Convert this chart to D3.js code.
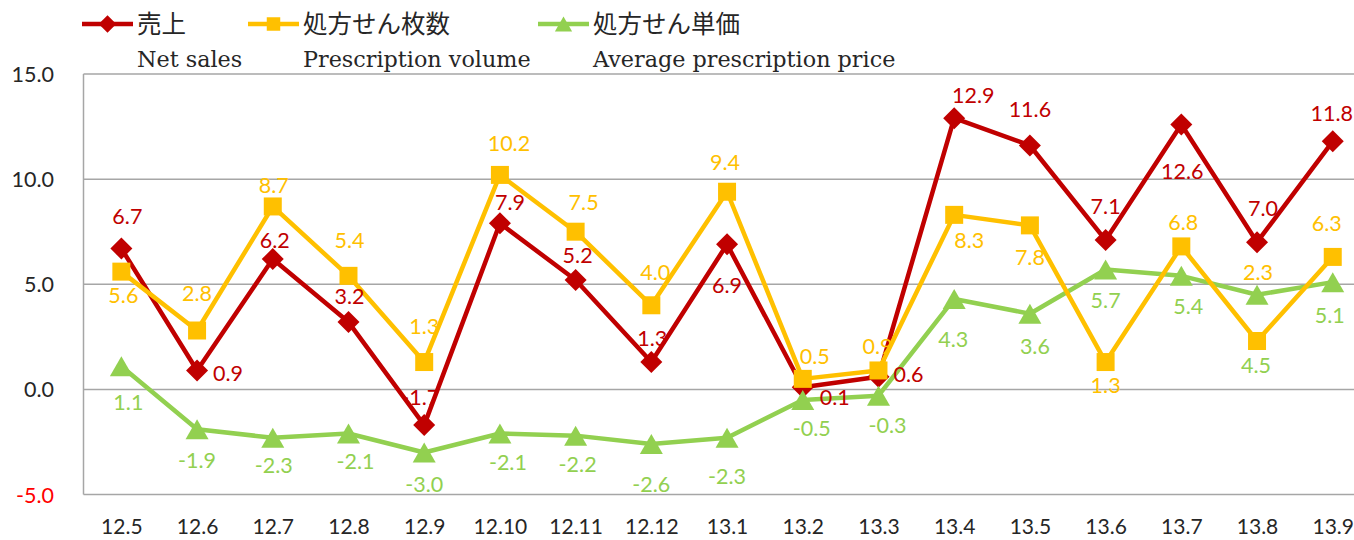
<!DOCTYPE html>
<html>
<head>
<meta charset="utf-8">
<script src="https://cdn.jsdelivr.net/npm/d3@7"></script>
<style>
  html, body { margin: 0; padding: 0; background: #fff; }
  svg { display: block; }
</style>
</head>
<body>
<svg id="chart" width="1354" height="540"></svg>
<script>
// ---- data ----
const categories = ["12.5","12.6","12.7","12.8","12.9","12.10","12.11","12.12","13.1","13.2","13.3","13.4","13.5","13.6","13.7","13.8","13.9"];
const netSales = [6.7, 0.9, 6.2, 3.2, -1.7, 7.9, 5.2, 1.3, 6.9, 0.1, 0.6, 12.9, 11.6, 7.1, 12.6, 7.0, 11.8];
const prescriptionVolume = [5.6, 2.8, 8.7, 5.4, 1.3, 10.2, 7.5, 4.0, 9.4, 0.5, 0.9, 8.3, 7.8, 1.3, 6.8, 2.3, 6.3];
const avgPrescriptionPrice = [1.1, -1.9, -2.3, -2.1, -3.0, -2.1, -2.2, -2.6, -2.3, -0.5, -0.3, 4.3, 3.6, 5.7, 5.4, 4.5, 5.1];
const yTicks = [-5, 0, 5, 10, 15];
const legendJa = ["売上", "処方せん枚数", "処方せん単価"];
const legendEn = ["Net sales", "Prescription volume", "Average prescription price"];

// ---- label placement (pixel offsets from each point), kept apart from data ----
const salesLabelOffsets = [[6,-32],[31,3],[2,-19],[1,-26],[-4,-28],[10,-21],[2,-25],[1,-24],[0,41],[32,10],[30,-2],[19,-23],[0,-36],[0,-34],[1,47],[6,-34],[-1,-28]];
const volumeLabelOffsets = [[2,24],[0,-37],[1,-21],[1,-35],[0,-36],[9,-31],[8,-29],[4,-33],[-2,-29],[12,-22],[-1,-24],[15,26],[0,32],[0,23],[2,-24],[1,-69],[-6,-33]];
const priceLabelOffsets = [[7,36],[0,31],[1,28],[7,28],[0,32],[8,29],[2,29],[0,40],[0,39],[9,29],[9,30],[-1,41],[5,33],[0,31],[7,31],[-1,71],[-3,33]];

// ---- layout ----
const svg = d3.select("#chart");
const plot = { left: 83.5, right: 1370.6, top: 74, bottom: 494.5 };
const x = d3.scalePoint().domain(categories).range([plot.left, plot.right]).padding(0.5);
const y = d3.scaleLinear().domain([-5, 15]).range([plot.bottom, plot.top]);

const numFont = "Lato, 'Open Sans', sans-serif";
const gridColor = "#a6a6a6";
const fmt = d => d.toFixed(1);

// gridlines
svg.append("g").selectAll("line").data(yTicks).join("line")
  .attr("x1", plot.left).attr("x2", plot.right)
  .attr("y1", d => y(d)).attr("y2", d => y(d))
  .attr("stroke", gridColor).attr("stroke-width", 1.5);
// left axis line
svg.append("line").attr("x1", plot.left).attr("x2", plot.left)
  .attr("y1", y(15)).attr("y2", y(-5)).attr("stroke", gridColor).attr("stroke-width", 1.5);

// y axis labels
const yAxis = d3.axisLeft(y).tickValues(yTicks).tickSize(0).tickPadding(0).tickFormat(fmt);
const yg = svg.append("g").attr("transform", "translate(54,0)").call(yAxis);
yg.select(".domain").remove();
yg.selectAll("text").attr("font-family", numFont).attr("font-size", 21.5)
  .attr("fill", d => d < 0 ? "#ff0000" : "#262626").attr("dy", "0.35em").attr("dx", 0);

// x axis labels
const xAxis = d3.axisBottom(x).tickSize(0).tickPadding(0);
const xg = svg.append("g").attr("transform", "translate(0,527)").call(xAxis);
xg.select(".domain").remove();
xg.selectAll("text").attr("font-family", numFont).attr("font-size", 21)
  .attr("fill", "#262626").attr("dy", "0.35em");

// marker paths
function markerPath(type) {
  if (type === "diamond") { const r = 11; return `M0,${-r}L${r},0L0,${r}L${-r},0Z`; }
  if (type === "square") { const r = 9; return `M${-r},${-r}H${r}V${r}H${-r}Z`; }
  const w = 11.5, h = 10; return `M0,${-h}L${w},${h}L${-w},${h}Z`;
}

const series = [
  { key: "sales", values: netSales, color: "#C00000", marker: "diamond", offsets: salesLabelOffsets },
  { key: "price", values: avgPrescriptionPrice, color: "#92D050", marker: "triangle", offsets: priceLabelOffsets },
  { key: "volume", values: prescriptionVolume, color: "#FFC000", marker: "square", offsets: volumeLabelOffsets }
];

const line = d3.line().x((d, i) => x(categories[i])).y(d => y(d));

series.forEach(s => {
  const g = svg.append("g");
  g.append("path").datum(s.values).attr("d", line)
    .attr("fill", "none").attr("stroke", s.color).attr("stroke-width", 4.5)
    .attr("stroke-linejoin", "round");
  g.selectAll("path.m").data(s.values).join("path").attr("class", "m")
    .attr("d", markerPath(s.marker))
    .attr("transform", (d, i) => `translate(${x(categories[i])},${y(d)})`)
    .attr("fill", s.color);
});

// data labels on top
series.forEach(s => {
  svg.append("g").selectAll("text").data(s.values).join("text")
    .attr("x", (d, i) => x(categories[i]) + s.offsets[i][0])
    .attr("y", (d, i) => y(d) + s.offsets[i][1])
    .attr("text-anchor", "middle").attr("dy", "0.35em")
    .attr("font-family", numFont).attr("font-size", 21.5)
    .attr("fill", s.color)
    .text(fmt);
});

// legend
const legendItems = [
  { color: "#C00000", marker: "diamond", x0: 82, ja: legendJa[0], en: legendEn[0] },
  { color: "#FFC000", marker: "square", x0: 248, ja: legendJa[1], en: legendEn[1] },
  { color: "#92D050", marker: "triangle", x0: 538, ja: legendJa[2], en: legendEn[2] }
];
const lg = svg.append("g");
legendItems.forEach(it => {
  const g = lg.append("g");
  g.append("line").attr("x1", it.x0).attr("x2", it.x0 + 51).attr("y1", 24).attr("y2", 24)
    .attr("stroke", it.color).attr("stroke-width", 4.5);
  const sc = it.marker === "diamond" ? 0.8 : 0.75;
  g.append("path").attr("d", markerPath(it.marker))
    .attr("transform", `translate(${it.x0 + 25.5},24) scale(${sc})`).attr("fill", it.color);
  g.append("text").attr("x", it.x0 + 55).attr("y", 33)
    .attr("font-family", "'Noto Sans CJK JP', sans-serif").attr("font-size", 24.5)
    .attr("fill", "#262626").text(it.ja);
  g.append("text").attr("x", it.x0 + 55).attr("y", 67)
    .attr("font-family", "'DejaVu Serif', serif").attr("font-size", 22.3)
    .attr("fill", "#262626").text(it.en);
});
</script>
</body>
</html>
